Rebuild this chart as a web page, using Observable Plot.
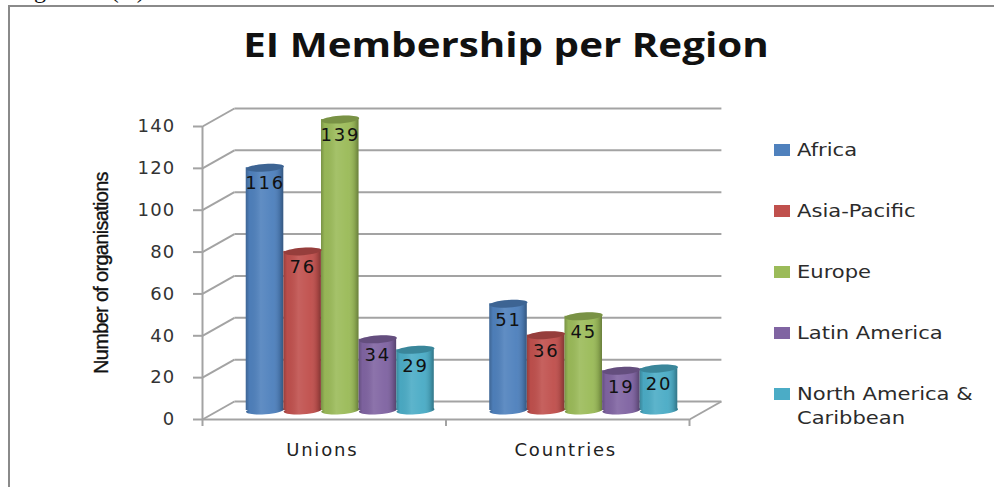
<!DOCTYPE html>
<html>
<head>
<meta charset="utf-8">
<script src="https://cdn.jsdelivr.net/npm/d3@7"></script>
<script src="https://cdn.jsdelivr.net/npm/@observablehq/plot@0.6"></script>
<style>
  html, body { margin: 0; padding: 0; background: #fff; overflow: hidden; }
  #page { position: relative; width: 994px; height: 487px; overflow: hidden; }
  #frame { position: absolute; left: 8px; top: 5px; right: -4px; bottom: -4px; border: 2px solid #8a8a8a; box-sizing: border-box; pointer-events: none; }
  #clip { position: absolute; left: 8px; top: -22px; font: 24px/24px "Liberation Serif", serif; color: #111; letter-spacing: 3px; word-spacing: 13px; white-space: nowrap; }
  #title { position: absolute; left: 206px; width: 600px; top: 21px; text-align: center; font: bold 34px "Open Sans", sans-serif; color: #111; white-space: nowrap; transform: scaleX(1.186); }
  #legend { position: absolute; left: 774px; top: 0; font: 18px "DejaVu Sans", sans-serif; color: #2b2b2b; }
  .item { position: absolute; left: 0; width: 215px; }
  .swatch { position: absolute; left: 0; top: -6px; width: 16px; height: 12px; }
  .label { position: absolute; left: 23px; top: -12px; width: 170px; line-height: 24px; transform: scaleX(1.17); transform-origin: left top; }
  .tick-text text { letter-spacing: 1.2px; }
  .big-text text { letter-spacing: 1.8px; }
  .y-title text { letter-spacing: -0.7px; }
</style>
</head>
<body>
<div id="page">
  <div id="chart"></div>
  <div id="frame"></div>
  <div id="clip">Figure (1)</div>
  <div id="title"></div>
  <div id="legend"></div>
</div>
<script>
const titleText = "EI Membership per Region";
const yLabel = "Number of organisations";
const groups = ["Unions", "Countries"];
const regions = ["Africa", "Asia-Pacific", "Europe", "Latin America", "North America & Caribbean"];
const regionColors = ["#4f81bd", "#c0504d", "#9bbb59", "#8064a2", "#4bacc6"];
const unionsValues = [116, 76, 139, 34, 29];
const countriesValues = [51, 36, 45, 19, 20];
const yTicks = [0, 20, 40, 60, 80, 100, 120, 140];

const barStep = 0.1545;
const barHalf = 0.077;
const depthX = 0.131;   // depth of the 3D floor in x units
const depthY = 8.6;     // depth of the 3D floor in y units

const rows = [];
groups.forEach((group, g) => {
  const vals = g === 0 ? unionsValues : countriesValues;
  regions.forEach((region, s) => {
    const cx = g + 0.5 + (s - 2) * barStep;
    rows.push({group, region, value: vals[s], cx, x1: cx - barHalf, x2: cx + barHalf});
  });
});

function tiltedEllipse(ratio, angle) {
  return {
    draw(ctx, size) {
      const rx = Math.sqrt(size / Math.PI), ry = rx * ratio, k = 0.5523;
      const c = Math.cos(angle), s = Math.sin(angle);
      const P = (x, y) => [x * c - y * s, x * s + y * c];
      const pts = [[rx,0],[rx,k*ry],[k*rx,ry],[0,ry],[-k*rx,ry],[-rx,k*ry],[-rx,0],[-rx,-k*ry],[-k*rx,-ry],[0,-ry],[k*rx,-ry],[rx,-k*ry],[rx,0]].map(p => P(...p));
      ctx.moveTo(...pts[0]);
      for (let i = 1; i < pts.length; i += 3) ctx.bezierCurveTo(...pts[i], ...pts[i+1], ...pts[i+2]);
      ctx.closePath();
    }
  };
}
const cap = tiltedEllipse(0.2, -0.07);

function defs() {
  const d = d3.create("svg:defs");
  const g = d.append("linearGradient").attr("id", "shade").attr("x1", 0).attr("x2", 1).attr("y1", 0).attr("y2", 0);
  [[0, "#000", 0.22], [0.1, "#000", 0.03], [0.4, "#fff", 0.1], [0.72, "#fff", 0.03], [0.9, "#000", 0.12], [1, "#000", 0.32]]
    .forEach(([o, c, a]) => g.append("stop").attr("offset", o).attr("stop-color", c).attr("stop-opacity", a));
  return d.node();
}

const gridColor = "#a3a3a3";
const bodyDx = 16, bodyDy = -9;

const chart = Plot.plot({
  width: 994,
  height: 487,
  marginLeft: 202,
  marginRight: 305,
  marginTop: 126,
  marginBottom: 68,
  style: {background: "transparent", fontFamily: "DejaVu Sans, sans-serif", overflow: "hidden"},
  x: {type: "linear", domain: [0, 2], axis: null},
  y: {domain: [0, 140], axis: null},
  color: {domain: regions, range: regionColors},
  marks: [
    defs,
    // back wall gridlines
    Plot.link(yTicks, {x1: depthX, x2: 2 + depthX, y1: d => d + depthY, y2: d => d + depthY, stroke: gridColor, strokeWidth: 2}),
    // side wall slants
    Plot.link(yTicks, {x1: 0, x2: depthX, y1: d => d, y2: d => d + depthY, stroke: gridColor, strokeWidth: 2}),
    // floor right side
    Plot.link([0], {x1: 2, x2: 2 + depthX, y1: d => d, y2: d => d + depthY, stroke: gridColor, strokeWidth: 2}),
    // front axes
    Plot.ruleX([0], {y1: 0, y2: 140, stroke: gridColor, strokeWidth: 2}),
    Plot.ruleY([0], {x1: 0, x2: 2, stroke: gridColor, strokeWidth: 2}),
    Plot.axisY({ticks: yTicks, tickSize: 9, tickPadding: 18, label: null, fontSize: 18, color: "#333", stroke: gridColor, strokeWidth: 2, className: "tick-text"}),
    Plot.axisX({ticks: [0, 1, 2], tickFormat: () => "", tickSize: 7, label: null, stroke: gridColor, strokeWidth: 2}),
    // category labels
    Plot.text(groups, {x: (d, i) => i + 0.5, y: 0, dx: -2, dy: 31, text: d => d, fontSize: 18, fill: "#222", className: "big-text"}),
    // y title
    Plot.text([yLabel], {frameAnchor: "left", textAnchor: "middle", rotate: -90, dx: -101, text: d => d, fontSize: 20, fill: "#111", stroke: "#111", strokeWidth: 0.35, fontFamily: "Liberation Sans, sans-serif", className: "y-title"}),
    // cylinders, bottom cap then body then top cap
    Plot.dot(rows, {x: "cx", y: 0, r: 19, dx: bodyDx, dy: bodyDy, symbol: cap, fill: "region"}),
    Plot.dot(rows, {x: "cx", y: 0, r: 19, dx: bodyDx, dy: bodyDy, symbol: cap, fill: "url(#shade)"}),
    Plot.rect(rows, {x1: "x1", x2: "x2", y1: 0, y2: "value", dx: bodyDx, dy: bodyDy, fill: "region"}),
    Plot.rect(rows, {x1: "x1", x2: "x2", y1: 0, y2: "value", dx: bodyDx, dy: bodyDy, fill: "url(#shade)"}),
    Plot.dot(rows, {x: "cx", y: "value", r: 19, dx: bodyDx, dy: bodyDy, symbol: cap, fill: "region"}),
    Plot.dot(rows, {x: "cx", y: "value", r: 19, dx: bodyDx, dy: bodyDy, symbol: cap, fill: "#000", fillOpacity: 0.22}),
    // value labels
    Plot.text(rows, {x: "cx", y: "value", dx: bodyDx, dy: 7, text: d => String(d.value), fontSize: 18, fill: "#111", className: "big-text"})
  ]
});
document.getElementById("chart").appendChild(chart);

document.getElementById("title").textContent = titleText;
const legend = document.getElementById("legend");
const legendY = [150, 211, 272, 333, 394];
regions.forEach((r, i) => {
  const item = document.createElement("div");
  item.className = "item";
  item.style.top = legendY[i] + "px";
  const sw = document.createElement("div");
  sw.className = "swatch";
  sw.style.background = regionColors[i];
  const lab = document.createElement("div");
  lab.className = "label";
  lab.textContent = r;
  item.append(sw, lab);
  legend.appendChild(item);
});
</script>
</body>
</html>
